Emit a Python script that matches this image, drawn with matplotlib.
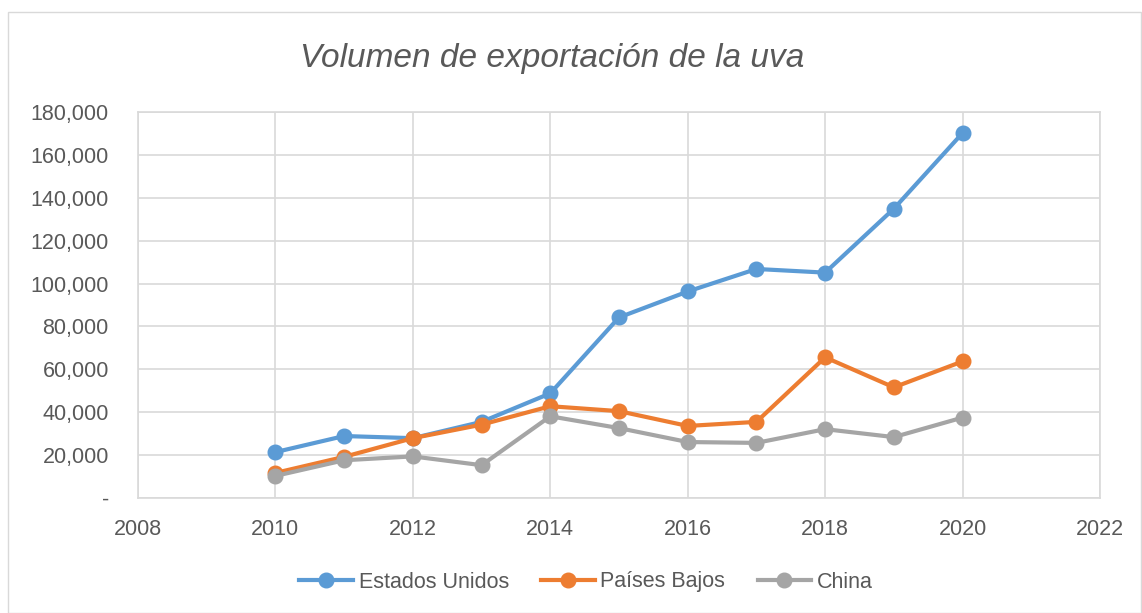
import matplotlib
matplotlib.use("Agg")
import matplotlib.pyplot as plt
from matplotlib.ticker import FuncFormatter
from matplotlib.patches import Rectangle

years = [2010, 2011, 2012, 2013, 2014, 2015, 2016, 2017, 2018, 2019, 2020]
estados_unidos = [21400, 28900, 27900, 35500, 48800, 84200, 96300, 106800, 105100, 134900, 170200]
paises_bajos = [11700, 19200, 27900, 34200, 42800, 40500, 33600, 35500, 65600, 51600, 63700]
china = [10300, 17600, 19400, 15300, 38100, 32600, 26100, 25700, 32100, 28400, 37500]

series = [("Estados Unidos", estados_unidos, "#5B9BD5"),
          ("Países Bajos", paises_bajos, "#ED7D31"),
          ("China", china, "#A5A5A5")]

plt.rcParams['font.family'] = ['Liberation Sans', 'DejaVu Sans']
txt = "#595959"

fig = plt.figure(figsize=(11.42, 6.13), dpi=100)
W, H = 1142, 613
ax = fig.add_axes([138 / W, 1 - 498 / H, (1100 - 138) / W, (498 - 112) / H])

# outer chart border
fig.patches.append(Rectangle((8 / W, 0), 1 - 8 / W - 0.001, 1 - 12 / H, transform=fig.transFigure,
                             fill=False, edgecolor="#D9D9D9", linewidth=1))

for name, vals, col in series:
    ax.plot(years, vals, color=col, lw=3, marker="o", markersize=10.5, label=name, zorder=3)

ax.set_xlim(2008, 2022)
ax.set_ylim(0, 180000)
ax.set_xticks(range(2008, 2023, 2))
ax.set_yticks(range(0, 180001, 20000))
ax.yaxis.set_major_formatter(FuncFormatter(lambda v, p: "-" if v == 0 else f"{int(v):,}"))
ax.grid(True, color="#D9D9D9", lw=1.2)
ax.set_axisbelow(True)
for s in ax.spines.values():
    s.set_color("#D9D9D9")
    s.set_linewidth(1.2)
ax.tick_params(length=0, labelsize=15.5, colors=txt)
ax.tick_params(axis="y", pad=21)
ax.tick_params(axis="x", pad=15)

fig.text(552 / W, 1 - 59 / H, "Volumen de exportación de la uva", ha="center", va="center",
         fontsize=24, style="italic", color=txt)

fig.legend(loc="center", bbox_to_anchor=(586 / W, 1 - 582 / H), ncol=3, frameon=False,
           fontsize=15.5, labelcolor=txt, handlelength=2.5, columnspacing=1.5, handletextpad=0.25)

fig.savefig("out.png", dpi=100)
